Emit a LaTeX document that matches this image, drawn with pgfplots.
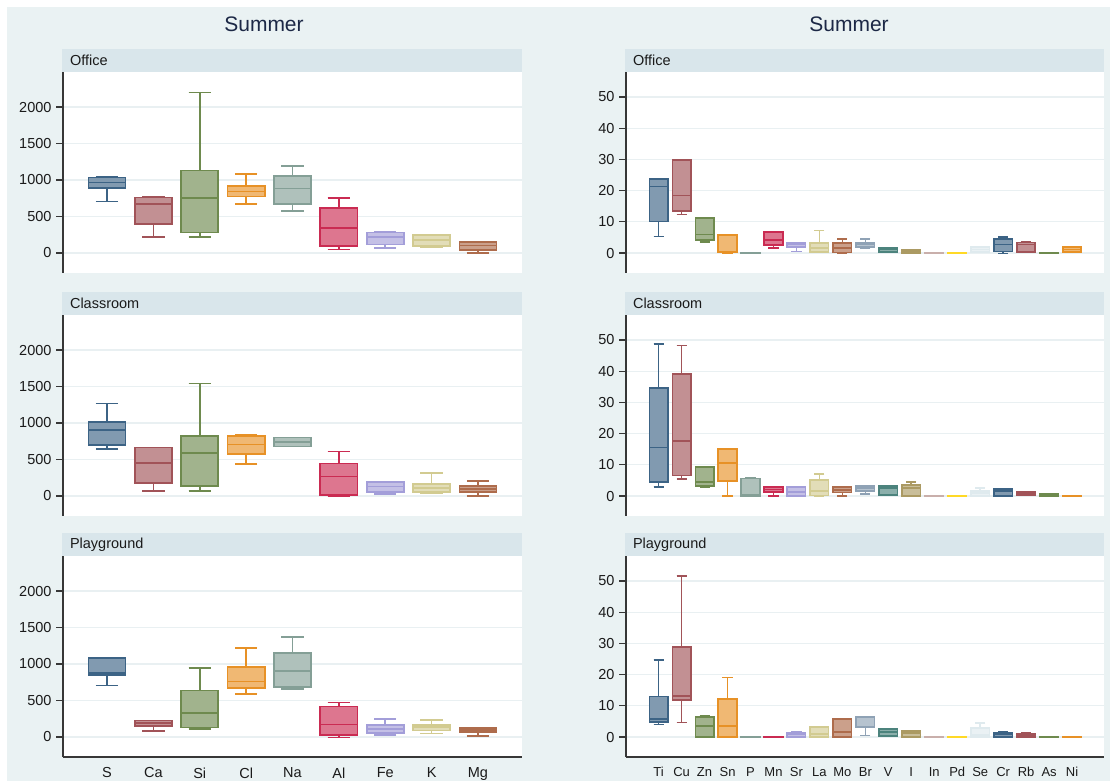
\documentclass[border=0pt]{standalone}
\usepackage{fontspec}
\setmainfont{Liberation Sans}
\usepackage{pgfplots}
\usepgfplotslibrary{statistics}
\pgfplotsset{compat=1.18}

% s2color palette
\definecolor{p0}{RGB}{26,71,111}
\definecolor{p1}{RGB}{144,53,59}
\definecolor{p2}{RGB}{85,117,47}
\definecolor{p3}{RGB}{227,126,0}
\definecolor{p4}{RGB}{110,142,132}
\definecolor{p5}{RGB}{193,5,52}
\definecolor{p6}{RGB}{147,141,210}
\definecolor{p7}{RGB}{202,194,126}
\definecolor{p8}{RGB}{160,82,45}
\definecolor{p9}{RGB}{123,146,168}
\definecolor{p10}{RGB}{45,109,102}
\definecolor{p11}{RGB}{156,136,71}
\definecolor{p12}{RGB}{191,161,156}
\definecolor{p13}{RGB}{255,210,0}
\definecolor{p14}{RGB}{217,230,235}
\definecolor{bgc}{RGB}{234,242,243}
\definecolor{stripc}{RGB}{217,230,235}
\definecolor{gridc}{RGB}{233,240,242}
\definecolor{axc}{RGB}{55,55,55}
\definecolor{labc}{RGB}{26,26,26}
\definecolor{titc}{RGB}{28,40,70}

\pgfplotsset{
  panel/.style={
    scale only axis, height=201pt,
    axis background/.style={fill=white},
    axis y line*=left, axis x line*=bottom,
    y axis line style={draw=axc, line width=1.4pt},
    ymajorgrids, major grid style={draw=gridc, line width=1.2pt},
    tick align=outside, major tick length=7pt,
    ytick style={draw=axc, line width=1.3pt},
    xtick style={draw=none},
    /pgf/number format/assume math mode=true,
    /pgf/number format/1000 sep={},
    scaled y ticks=false,
    yticklabel style={font=\fontsize{14.5}{16}\selectfont, text=labc, xshift=-1pt},
    boxplot/draw direction=y,
    boxplot/box extend=0.8,
  },
  toprow/.style={x axis line style={draw=none}, xticklabels={}},
  botrow/.style={x axis line style={draw=axc, line width=1.4pt}},
  leftp/.style={panel, width=459pt, xmin=-0.95, xmax=8.95, ymin=-275, ymax=2480,
    ytick={0,500,1000,1500,2000}, xtick={0,1,2,3,4,5,6,7,8},
    boxplot/whisker extend=0.48,
    xticklabel style={font=\fontsize{14.5}{16}\selectfont, text=labc}},
  rightp/.style={panel, width=478pt, xmin=-1.42, xmax=19.39, ymin=-6.4, ymax=58,
    ytick={0,10,20,30,40,50}, xtick={0,1,2,3,4,5,6,7,8,9,10,11,12,13,14,15,16,17,18},
    boxplot/whisker extend=0.44,
    xticklabel style={font=\fontsize{13}{15}\selectfont, text=labc}},
}

% \bx{position}{colour}{lower whisker}{lower quartile}{median}{upper quartile}{upper whisker}
\newcommand{\bx}[7]{%
  \addplot[draw=#2!85!white, fill=#2!55!white, line width=1.7pt, solid,
    boxplot/every whisker/.style={draw=#2!85!white, line width=1.7pt},
    boxplot/every median/.style={draw=#2!85!white, line width=1.7pt},
    boxplot prepared={lower whisker=#3, lower quartile=#4, median=#5,
      upper quartile=#6, upper whisker=#7, draw position=#1}] coordinates {};
}

\newcommand{\strip}[2]{%
  \fill[stripc] ([xshift=-1pt]#1.north west) rectangle ([yshift=23pt]#1.north east);
  \node[anchor=west, font=\fontsize{14.5}{16}\selectfont, text=labc]
    at ([xshift=3.5pt,yshift=11.5pt]#1.north west) {#2};
}

\begin{document}
\begin{tikzpicture}
\fill[white] (0,0) rectangle (1110pt,781pt);
\fill[bgc] (7pt,0) rectangle (1110pt,774pt);
\useasboundingbox (0,0) rectangle (1110pt,781pt);

\node[font=\fontsize{21}{24}\selectfont, text=titc] at (264pt,757pt) {Summer};
\node[font=\fontsize{21}{24}\selectfont, text=titc] at (849pt,757pt) {Summer};

% ---- major elements ----
\begin{axis}[leftp, toprow, name=L1, at={(63pt,508pt)}, anchor=south west]
\bx{0}{p0}{706}{888}{966}{1034}{1040}
\bx{1}{p1}{214}{396}{670}{761}{765}
\bx{2}{p2}{214}{282}{752}{1130}{2200}
\bx{3}{p3}{674}{775}{843}{920}{1084}
\bx{4}{p4}{579}{674}{884}{1057}{1194}
\bx{5}{p5}{46}{91}{346}{615}{756}
\bx{6}{p6}{68}{114}{214}{282}{285}
\bx{7}{p7}{73}{91}{182}{246}{250}
\bx{8}{p8}{0}{36}{100}{146}{150}
\end{axis}
\begin{axis}[leftp, toprow, name=L2, at={(63pt,265pt)}, anchor=south west]
\bx{0}{p0}{639}{699}{900}{1014}{1265}
\bx{1}{p1}{68}{174}{447}{662}{665}
\bx{2}{p2}{68}{137}{584}{822}{1543}
\bx{3}{p3}{434}{571}{703}{822}{836}
\bx{4}{p4}{676}{678}{735}{799}{801}
\bx{5}{p5}{-9}{14}{265}{443}{607}
\bx{6}{p6}{27}{55}{128}{187}{190}
\bx{7}{p7}{37}{50}{105}{164}{310}
\bx{8}{p8}{0}{50}{96}{137}{201}
\end{axis}
\begin{axis}[leftp, botrow, name=L3, at={(63pt,24pt)}, anchor=south west,
  xticklabels={S,Ca,Si,Cl,Na,Al,Fe,K,Mg}]
\bx{0}{p0}{703}{849}{872}{1078}{1080}
\bx{1}{p1}{82}{151}{187}{224}{226}
\bx{2}{p2}{105}{128}{324}{635}{945}
\bx{3}{p3}{589}{671}{758}{954}{1219}
\bx{4}{p4}{658}{689}{904}{1155}{1374}
\bx{5}{p5}{-9}{27}{169}{416}{470}
\bx{6}{p6}{23}{50}{105}{164}{247}
\bx{7}{p7}{46}{87}{132}{164}{233}
\bx{8}{p8}{14}{68}{96}{119}{121}
\end{axis}

% ---- trace elements ----
\begin{axis}[rightp, toprow, name=R1, at={(626pt,508pt)}, anchor=south west]
\bx{0}{p0}{5.3}{10.1}{21.3}{23.8}{23.9}
\bx{1}{p1}{12.3}{13.4}{18.4}{29.8}{29.9}
\bx{2}{p2}{3.5}{4.1}{5.9}{11.2}{11.3}
\bx{3}{p3}{0}{0.2}{0.3}{5.7}{5.8}
\bx{4}{p4}{0}{0}{0.05}{0.1}{0.15}
\bx{5}{p5}{1.6}{2.5}{4.1}{6.7}{6.8}
\bx{6}{p6}{0.5}{2.0}{2.7}{3.3}{3.4}
\bx{7}{p7}{0.2}{0.3}{1.6}{3.2}{7.2}
\bx{8}{p8}{0}{0.2}{1.6}{3.2}{4.6}
\bx{9}{p9}{1.6}{1.9}{2.7}{3.3}{4.6}
\bx{10}{p10}{0.3}{0.4}{1.1}{1.6}{1.7}
\bx{11}{p11}{0}{0.05}{0.4}{0.9}{0.95}
\bx{12}{p12}{0}{0}{0.05}{0.1}{0.1}
\bx{13}{p13}{0}{0}{0.05}{0.1}{0.1}
\bx{14}{p14}{0.2}{0.3}{1.1}{1.9}{2.0}
\bx{15}{p0}{-0.2}{0.5}{2.7}{4.5}{5.1}
\bx{16}{p1}{0.2}{0.3}{2.7}{3.4}{3.7}
\bx{17}{p2}{0}{0}{0.05}{0.1}{0.1}
\bx{18}{p3}{0.3}{0.35}{1.1}{1.9}{2.0}
\end{axis}
\begin{axis}[rightp, toprow, name=R2, at={(626pt,265pt)}, anchor=south west]
\bx{0}{p0}{2.9}{4.6}{15.5}{34.6}{48.8}
\bx{1}{p1}{5.4}{6.6}{17.6}{39.2}{48.2}
\bx{2}{p2}{3.0}{3.3}{4.6}{9.3}{9.4}
\bx{3}{p3}{0}{4.8}{10.5}{15.0}{15.1}
\bx{4}{p4}{0}{0}{0.3}{5.6}{5.7}
\bx{5}{p5}{0}{1.4}{2.1}{2.8}{2.9}
\bx{6}{p6}{0}{0.05}{1.4}{2.8}{2.9}
\bx{7}{p7}{0.1}{0.15}{1.7}{5.1}{7.0}
\bx{8}{p8}{0}{1.1}{1.9}{2.8}{2.9}
\bx{9}{p9}{0.7}{1.6}{2.5}{3.3}{3.4}
\bx{10}{p10}{0.3}{0.35}{2.5}{3.3}{3.4}
\bx{11}{p11}{0}{0.05}{2.5}{3.5}{4.6}
\bx{12}{p12}{0}{0}{0.05}{0.1}{0.1}
\bx{13}{p13}{0}{0}{0.05}{0.1}{0.1}
\bx{14}{p14}{0}{0.05}{0.9}{1.6}{2.6}
\bx{15}{p0}{0}{0.05}{1.6}{2.2}{2.3}
\bx{16}{p1}{0.3}{0.35}{0.9}{1.3}{1.4}
\bx{17}{p2}{0}{0.05}{0.3}{0.6}{0.65}
\bx{18}{p3}{0}{0}{0.05}{0.1}{0.1}
\end{axis}
\begin{axis}[rightp, botrow, name=R3, at={(626pt,24pt)}, anchor=south west,
  xticklabels={Ti,Cu,Zn,Sn,P,Mn,Sr,La,Mo,Br,V,I,In,Pd,Se,Cr,Rb,As,Ni}]
\bx{0}{p0}{4.0}{4.9}{5.7}{13.0}{24.7}
\bx{1}{p1}{4.7}{11.9}{13.1}{28.9}{51.6}
\bx{2}{p2}{0}{0.05}{3.5}{6.5}{6.7}
\bx{3}{p3}{0}{0.05}{3.5}{12.1}{19.1}
\bx{4}{p4}{0}{0}{0.05}{0.1}{0.1}
\bx{5}{p5}{0}{0}{0.05}{0.1}{0.1}
\bx{6}{p6}{0}{0.05}{0.9}{1.4}{1.5}
\bx{7}{p7}{0}{0.05}{1.0}{3.3}{3.4}
\bx{8}{p8}{0}{0.05}{1.7}{5.7}{5.9}
\bx{9}{p9}{0.5}{3.1}{6.3}{6.5}{6.6}
\bx{10}{p10}{0.3}{0.35}{1.7}{2.5}{2.6}
\bx{11}{p11}{0}{0.05}{1.2}{2.0}{2.1}
\bx{12}{p12}{0}{0}{0.05}{0.1}{0.1}
\bx{13}{p13}{0}{0}{0.05}{0.1}{0.1}
\bx{14}{p14}{0}{0.05}{0.6}{2.8}{4.4}
\bx{15}{p0}{0}{0.05}{1.0}{1.4}{1.5}
\bx{16}{p1}{0}{0.05}{0.6}{1.1}{1.2}
\bx{17}{p2}{0}{0}{0.05}{0.1}{0.1}
\bx{18}{p3}{0}{0}{0.05}{0.1}{0.1}
\end{axis}

\strip{L1}{Office}
\strip{L2}{Classroom}
\strip{L3}{Playground}
\strip{R1}{Office}
\strip{R2}{Classroom}
\strip{R3}{Playground}
\end{tikzpicture}
\end{document}
